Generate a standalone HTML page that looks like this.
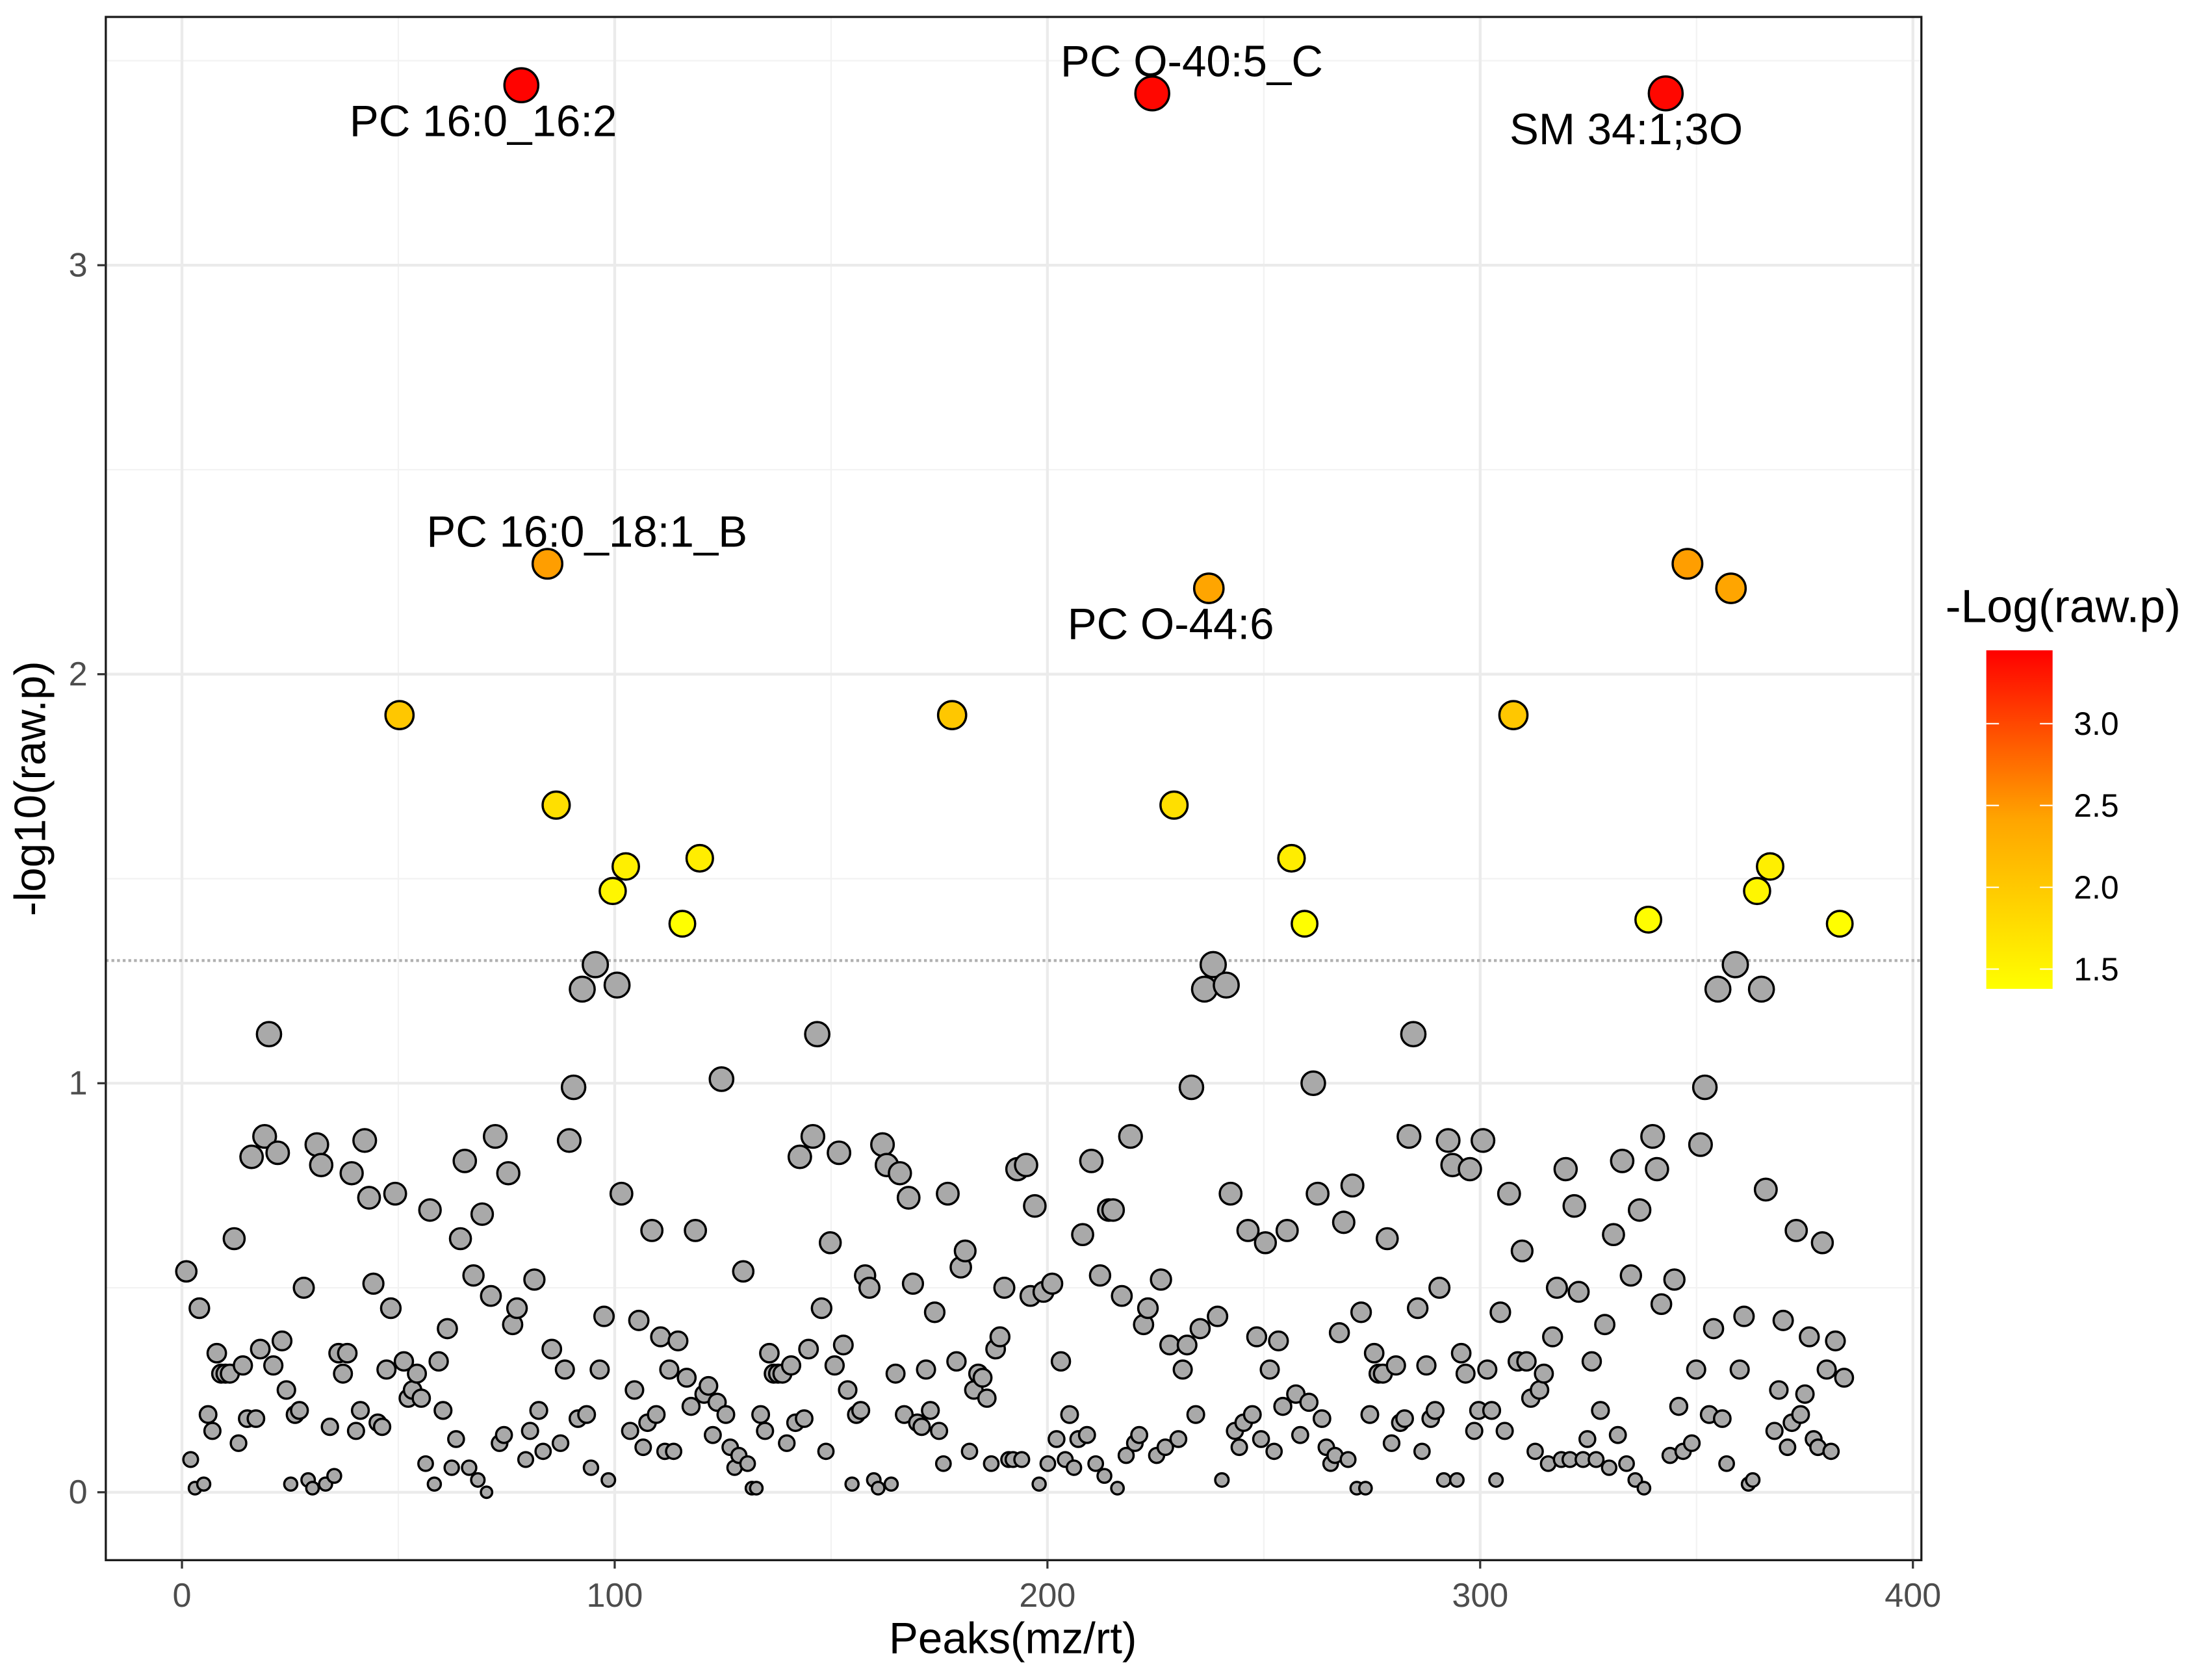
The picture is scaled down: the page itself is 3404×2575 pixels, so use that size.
<!DOCTYPE html>
<html><head><meta charset="utf-8"><style>html,body{margin:0;padding:0;background:#fff}svg{display:block}text{font-family:"Liberation Sans",Arial,sans-serif}</style></head>
<body>
<svg id="chart" xmlns="http://www.w3.org/2000/svg" width="3404" height="2575" viewBox="0 0 1568 1186" preserveAspectRatio="none">
<rect x="0" y="0" width="1568" height="1186" fill="#fff"/>
<g id="grid"></g>
<line id="thr" stroke="#b0b0b0" stroke-width="2" stroke-dasharray="2,2"/>
<g id="points"></g>
<g id="labels"></g>
<rect x="75" y="12" width="1287" height="1094" fill="none" stroke="#1a1a1a" stroke-width="1.5"/>
<g id="axes"></g>
<text x="718" y="1172" font-size="31" text-anchor="middle" fill="#000">Peaks(mz/rt)</text>
<text transform="translate(32,559) rotate(-90)" font-size="31" text-anchor="middle" fill="#000">-log10(raw.p)</text>
<g id="legend">
<defs><linearGradient id="lg" x1="0" y1="1" x2="0" y2="0"><stop offset="0" stop-color="#ffff00"/><stop offset="0.5" stop-color="#ffa500"/><stop offset="1" stop-color="#ff0000"/></linearGradient></defs>
<text x="1379" y="441" font-size="33" fill="#000">-Log(raw.p)</text>
<rect x="1408" y="461" width="47" height="240" fill="url(#lg)"/>
</g>
</svg>
<script>
const peakValues=[0.54,0.08,0.01,0.45,0.02,0.19,0.15,0.34,0.29,0.29,0.29,0.62,0.12,0.31,0.18,0.82,0.18,0.35,0.87,1.12,0.31,0.83,0.37,0.25,0.02,0.19,0.2,0.5,0.03,0.01,0.85,0.8,0.02,0.16,0.04,0.34,0.29,0.34,0.78,0.15,0.2,0.86,0.72,0.51,0.17,0.16,0.3,0.45,0.73,1.9,0.32,0.23,0.25,0.29,0.23,0.07,0.69,0.02,0.32,0.2,0.4,0.06,0.13,0.62,0.81,0.06,0.53,0.03,0.68,0.0,0.48,0.87,0.12,0.14,0.78,0.41,0.45,3.44,0.08,0.15,0.52,0.2,0.1,2.27,0.35,1.68,0.12,0.3,0.86,0.99,0.18,1.23,0.19,0.06,1.29,0.3,0.43,0.03,1.47,1.24,0.73,1.53,0.15,0.25,0.42,0.11,0.17,0.64,0.19,0.38,0.1,0.3,0.1,0.37,1.39,0.28,0.21,0.64,1.55,0.24,0.26,0.14,0.22,1.01,0.19,0.11,0.06,0.09,0.54,0.07,0.01,0.01,0.19,0.15,0.34,0.29,0.29,0.29,0.12,0.31,0.17,0.82,0.18,0.35,0.87,1.12,0.45,0.1,0.61,0.31,0.83,0.36,0.25,0.02,0.19,0.2,0.53,0.5,0.03,0.01,0.85,0.8,0.02,0.29,0.78,0.19,0.72,0.51,0.17,0.16,0.3,0.2,0.44,0.15,0.07,0.73,1.9,0.32,0.55,0.59,0.1,0.25,0.29,0.28,0.23,0.07,0.35,0.38,0.5,0.08,0.08,0.79,0.08,0.8,0.48,0.7,0.02,0.49,0.07,0.51,0.13,0.32,0.08,0.19,0.06,0.13,0.63,0.14,0.81,0.07,0.53,0.04,0.69,0.69,0.01,0.48,0.09,0.87,0.12,0.14,0.41,0.45,3.42,0.09,0.52,0.11,0.36,1.68,0.13,0.3,0.36,0.99,0.19,0.4,1.23,2.21,1.29,0.43,0.03,1.24,0.73,0.15,0.11,0.17,0.64,0.19,0.38,0.13,0.61,0.3,0.1,0.37,0.21,0.64,1.55,0.24,0.14,1.39,0.22,1.0,0.73,0.18,0.11,0.07,0.09,0.39,0.66,0.08,0.75,0.01,0.44,0.01,0.19,0.34,0.29,0.29,0.62,0.12,0.31,0.17,0.18,0.87,1.12,0.45,0.1,0.31,0.18,0.2,0.5,0.03,0.86,0.8,0.03,0.34,0.29,0.79,0.15,0.2,0.86,0.3,0.2,0.03,0.44,0.15,0.73,1.9,0.32,0.59,0.32,0.23,0.1,0.25,0.29,0.07,0.38,0.5,0.08,0.79,0.08,0.7,0.49,0.08,0.13,0.32,0.08,0.2,0.41,0.06,0.63,0.14,0.81,0.07,0.53,0.03,0.69,0.01,1.4,0.87,0.79,0.46,3.42,0.09,0.52,0.21,0.1,2.27,0.12,0.3,0.85,0.99,0.19,0.4,1.23,0.18,0.07,2.21,1.29,0.3,0.43,0.02,0.03,1.47,1.23,0.74,1.53,0.15,0.25,0.42,0.11,0.17,0.64,0.19,0.24,0.38,0.13,0.11,0.61,0.3,0.1,0.37,1.39,0.28];
const labelNames=["PC 16:0_16:2","PC O-40:5_C","SM 34:1;3O","PC 16:0_18:1_B","PC O-44:6"];
const labelPeaks=[77,222,340,83,235];
const labelDx=[-27,28,-28,28,-27];
const labelDy=[25,-23,25,-23,25];
const xTicks=[0,100,200,300,400];
const yTicks=[0,1,2,3];
const legendTicks=[1.5,2.0,2.5,3.0];
const threshold=1.3;
const NS="http://www.w3.org/2000/svg";
const X0=-17.6,X1=401.96,Y0=-0.166,Y1=3.607;
function sx(v){return 75+(v-X0)/(X1-X0)*1287;}
function sy(v){return 1106-(v-Y0)/(Y1-Y0)*1094;}
function ly(v){return 513+(3.0-v)*116;}
function px(i){return sx((i+1)*1.0055);}
function el(t,a,p){const e=document.createElementNS(NS,t);for(const k in a)e.setAttribute(k,a[k]);p.appendChild(e);return e;}
const grid=document.getElementById('grid');
for(let v=50;v<=400;v+=100){const g=el('line',{x1:sx(v),x2:sx(v),y1:12,y2:1106,stroke:'#f2f2f2','stroke-width':1},grid);}
for(let v=0.5;v<3.6;v+=1){const g=el('line',{x1:75,x2:1362,y1:sy(v),y2:sy(v),stroke:'#f2f2f2','stroke-width':1},grid);}
xTicks.forEach(v=>{const g=el('line',{x1:sx(v),x2:sx(v),y1:12,y2:1106,stroke:'#ebebeb','stroke-width':2},grid);});
yTicks.forEach(v=>{const g=el('line',{x1:75,x2:1362,y1:sy(v),y2:sy(v),stroke:'#ebebeb','stroke-width':2},grid);});
const thr=document.getElementById('thr');thr.setAttribute('x1',75);thr.setAttribute('x2',1362);thr.setAttribute('y1',sy(threshold));thr.setAttribute('y2',sy(threshold));
const axes=document.getElementById('axes');
xTicks.forEach(v=>{const t=el('line',{x1:sx(v),x2:sx(v),y1:1106,y2:1112,stroke:'#333','stroke-width':1.5},axes);
const l=el('text',{x:sx(v),y:1139,'font-size':24,'text-anchor':'middle',fill:'#4d4d4d'},axes);l.textContent=v;});
yTicks.forEach(v=>{const t=el('line',{x1:69,x2:75,y1:sy(v),y2:sy(v),stroke:'#333','stroke-width':1.5},axes);
const l=el('text',{x:62,y:sy(v)+8,'font-size':24,'text-anchor':'end',fill:'#4d4d4d'},axes);l.textContent=v;});
function col(v){const t=Math.max(0,Math.min(1,(v-1.38)/(3.45-1.38)));const g=Math.round(255*Math.pow(1-t,0.85));return 'rgb(255,'+g+',0)';}
const pts=document.getElementById('points');
peakValues.forEach((v,i)=>{const r=4+8*Math.sqrt(Math.max(v,0)/3.44);
const c=el('circle',{cx:px(i),cy:sy(v),r:r,fill:v>=threshold?col(v):'#a9a9a9',stroke:'#000','stroke-width':1.6},pts);

});
const lab=document.getElementById('labels');
labelNames.forEach((n,k)=>{const p=labelPeaks[k];const v=peakValues[p];
const t=el('text',{x:px(p)+labelDx[k],y:sy(v)+labelDy[k]+11,'font-size':31,'text-anchor':'middle',fill:'#000'},lab);t.textContent=n;

});
const leg=document.getElementById('legend');
legendTicks.forEach(v=>{const a=el('line',{x1:1408,x2:1417,y1:ly(v),y2:ly(v),stroke:'#fff','stroke-width':1},leg);
const b=el('line',{x1:1446,x2:1455,y1:ly(v),y2:ly(v),stroke:'#fff','stroke-width':1},leg);
const l=el('text',{x:1470,y:ly(v)+8,'font-size':23,fill:'#000'},leg);l.textContent=v.toFixed(1);});
</script>
</body></html>
